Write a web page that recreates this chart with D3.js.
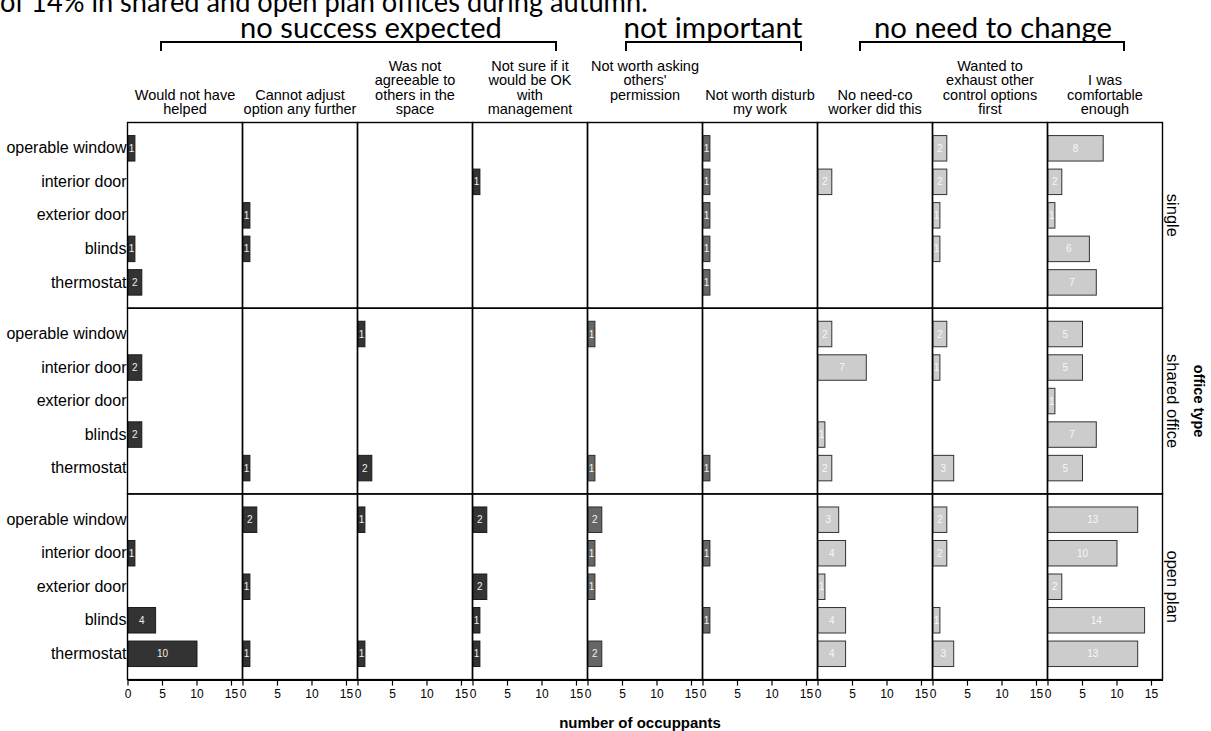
<!DOCTYPE html>
<html>
<head>
<meta charset="utf-8">
<script src="https://cdn.jsdelivr.net/npm/d3@7"></script>
<style>
  html, body { margin: 0; padding: 0; background: #fff; }
  svg { display: block; }
</style>
</head>
<body>
<div id="chart"></div>
<script>
// ---------------- data ----------------
const categories = ["operable window", "interior door", "exterior door", "blinds", "thermostat"];
const officeTypes = ["single", "shared office", "open plan"];
const reasons = [
  ["Would not have", "helped"],
  ["Cannot adjust", "option any further"],
  ["Was not", "agreeable to", "others in the", "space"],
  ["Not sure if it", "would be OK", "with", "management"],
  ["Not worth asking", "others'", "permission", ""],
  ["Not worth disturb", "my work"],
  ["No need-co", "worker did this"],
  ["Wanted to", "exhaust other", "control options", "first"],
  ["I was", "comfortable", "enough"]
];
// reason group of each column: 0 = no success expected, 1 = not important, 2 = no need to change
const reasonGroup = [0, 0, 0, 0, 1, 1, 2, 2, 2];
const groupLabels = ["no success expected", "not important", "no need to change"];
const headline = "of 14% in shared and open plan offices during autumn.";
const xTicks = [0, 5, 10, 15];
const xTitle = "number of occuppants";
const facetTitle = "office type";

// values[reason][category]  (operable window, interior door, exterior door, blinds, thermostat)
const singleValues = [
  [1, 0, 0, 1, 2],
  [0, 0, 1, 1, 0],
  [0, 0, 0, 0, 0],
  [0, 1, 0, 0, 0],
  [0, 0, 0, 0, 0],
  [1, 1, 1, 1, 1],
  [0, 2, 0, 0, 0],
  [2, 2, 1, 1, 0],
  [8, 2, 1, 6, 7]
];
const sharedValues = [
  [0, 2, 0, 2, 0],
  [0, 0, 0, 0, 1],
  [1, 0, 0, 0, 2],
  [0, 0, 0, 0, 0],
  [1, 0, 0, 0, 1],
  [0, 0, 0, 0, 1],
  [2, 7, 0, 1, 2],
  [2, 1, 0, 0, 3],
  [5, 5, 1, 7, 5]
];
const openPlanValues = [
  [0, 1, 0, 4, 10],
  [2, 0, 1, 0, 1],
  [1, 0, 0, 0, 1],
  [2, 0, 2, 1, 1],
  [2, 1, 1, 0, 2],
  [0, 1, 0, 1, 0],
  [3, 4, 1, 4, 4],
  [2, 2, 0, 1, 3],
  [13, 10, 2, 14, 13]
];
const valuesByOffice = [singleValues, sharedValues, openPlanValues];

// ---------------- layout ----------------
const W = 1211, H = 731;
const L = 127.5, PW = 115, T = 122.5, RH = 185.7;
const nCols = reasons.length, nRows = officeTypes.length;
const R = L + nCols * PW, B = T + nRows * RH;
const fills = ["#333333", "#666666", "#cccccc"];
const strokes = ["#1a1a1a", "#2a2a2a", "#333333"];
const labelFills = ["#eeeeee", "#f2f2f2", "#f7f7f7"];
const brackets = [[161, 556], [626, 801], [860, 1124]];
const groupTextX = [371, 713, 993];
const groupTextW = [262, 179, 238];
const calibriLike = "Lato, 'Open Sans', sans-serif";

const svg = d3.select("#chart").append("svg")
  .attr("width", W).attr("height", H)
  .attr("viewBox", `0 0 ${W} ${H}`);

const x = d3.scaleLinear().domain([0, 16.67]).range([0, PW]);
const colX = d3.scaleBand().domain(d3.range(nCols)).range([L, R]).padding(0);
const rowY = d3.scaleBand().domain(d3.range(nRows)).range([T, B]).padding(0);

// helper: narrow-font look — draw text, then compress horizontally to target width
function condensedText(px, py, str, fs, targetW, anchor) {
  const g = svg.append("g");
  const t = g.append("text")
    .attr("x", 0).attr("y", 0)
    .attr("text-anchor", anchor)
    .attr("font-family", calibriLike)
    .attr("font-size", fs).attr("fill", "#000")
    .text(str);
  const w = t.node().getComputedTextLength();
  const sx = targetW / w;
  g.attr("transform", `translate(${px},${py}) scale(${sx.toFixed(4)},1)`);
  return g;
}

// headline (clipped at top, as in the source image)
condensedText(0, 11.5, headline, 28, 648, "start");

// group titles + brackets
groupLabels.forEach((g, i) => {
  condensedText(groupTextX[i], 37.5, g, 28, groupTextW[i], "middle");
  const [a, b] = brackets[i];
  svg.append("path")
    .attr("d", `M${a},51 V42 H${b} V51`)
    .attr("fill", "none").attr("stroke", "#000").attr("stroke-width", 2);
});

// column headers
reasons.forEach((lines, c) => {
  const cx = colX(c) + PW / 2;
  const n = lines.length;
  const t = svg.append("text")
    .attr("text-anchor", "middle")
    .attr("font-family", "'Liberation Sans', Arial, sans-serif")
    .attr("font-size", 14.5).attr("fill", "#000");
  lines.forEach((s, k) => {
    t.append("tspan").attr("x", cx).attr("y", 114 - (n - 1 - k) * 14.5).text(s);
  });
});

// panels
for (let r = 0; r < nRows; r++) {
  const y0 = rowY(r);
  const y = d3.scaleBand().domain(categories).range([y0, y0 + RH])
    .paddingInner(0.24).paddingOuter(0.39);
  const vals = valuesByOffice[r];

  for (let c = 0; c < nCols; c++) {
    const x0 = colX(c);
    const g = svg.append("g").attr("transform", `translate(${x0},0)`);
    const grp = reasonGroup[c];
    const data = categories.map((cat, k) => ({ cat, v: vals[c][k] })).filter(d => d.v > 0);

    g.selectAll("rect.bar").data(data).join("rect")
      .attr("class", "bar")
      .attr("x", x(0) + 0.5)
      .attr("y", d => y(d.cat))
      .attr("width", d => x(d.v) - x(0))
      .attr("height", y.bandwidth())
      .attr("fill", fills[grp])
      .attr("stroke", strokes[grp]).attr("stroke-width", 1);

    g.selectAll("text.lbl").data(data).join("text")
      .attr("class", "lbl")
      .attr("x", d => x(d.v / 2) + 0.5)
      .attr("y", d => y(d.cat) + y.bandwidth() / 2)
      .attr("dy", "0.35em")
      .attr("text-anchor", "middle")
      .attr("font-family", "'Liberation Sans', Arial, sans-serif")
      .attr("font-size", 10)
      .attr("fill", labelFills[grp])
      .text(d => d.v);

    g.append("rect")
      .attr("x", 0).attr("y", y0)
      .attr("width", PW).attr("height", RH)
      .attr("fill", "none").attr("stroke", "#000").attr("stroke-width", 1.4);
  }

  // row (category) labels
  const ax = svg.append("g").attr("transform", `translate(${L - 1},0)`)
    .call(d3.axisLeft(y).tickSize(0).tickPadding(0));
  ax.select(".domain").remove();
  ax.selectAll("text")
    .attr("font-family", "'Liberation Sans', Arial, sans-serif")
    .attr("font-size", 16).attr("fill", "#000");

  // strip label on right
  svg.append("text")
    .attr("transform", `translate(${R + 10},${y0 + RH / 2}) rotate(90)`)
    .attr("text-anchor", "middle")
    .attr("dy", "0.35em")
    .attr("font-family", "'Liberation Sans', Arial, sans-serif")
    .attr("font-size", 16.5).attr("fill", "#000")
    .text(officeTypes[r]);
}

// facet title
svg.append("text")
  .attr("transform", `translate(${R + 37},${T + RH * 1.5}) rotate(90)`)
  .attr("text-anchor", "middle")
  .attr("dy", "0.35em")
  .attr("font-family", "'Liberation Sans', Arial, sans-serif")
  .attr("font-weight", "bold")
  .attr("font-size", 14.5).attr("fill", "#000")
  .text(facetTitle);

// x axes
for (let c = 0; c < nCols; c++) {
  const ax = svg.append("g").attr("transform", `translate(${colX(c)},${B})`)
    .call(d3.axisBottom(x).tickValues(xTicks).tickSize(6).tickPadding(4).tickSizeOuter(0));
  ax.select(".domain").attr("stroke", "#000").attr("stroke-width", 2);
  ax.selectAll(".tick line").attr("stroke", "#000").attr("stroke-width", 1.2);
  ax.selectAll("text")
    .attr("font-family", "'Liberation Sans', Arial, sans-serif")
    .attr("font-size", 12).attr("fill", "#000");
}

// x title
svg.append("text")
  .attr("x", (L + R) / 2 - 5).attr("y", 728)
  .attr("text-anchor", "middle")
  .attr("font-family", "'Liberation Sans', Arial, sans-serif")
  .attr("font-weight", "bold")
  .attr("font-size", 15).attr("fill", "#000")
  .text(xTitle);
</script>
</body>
</html>
